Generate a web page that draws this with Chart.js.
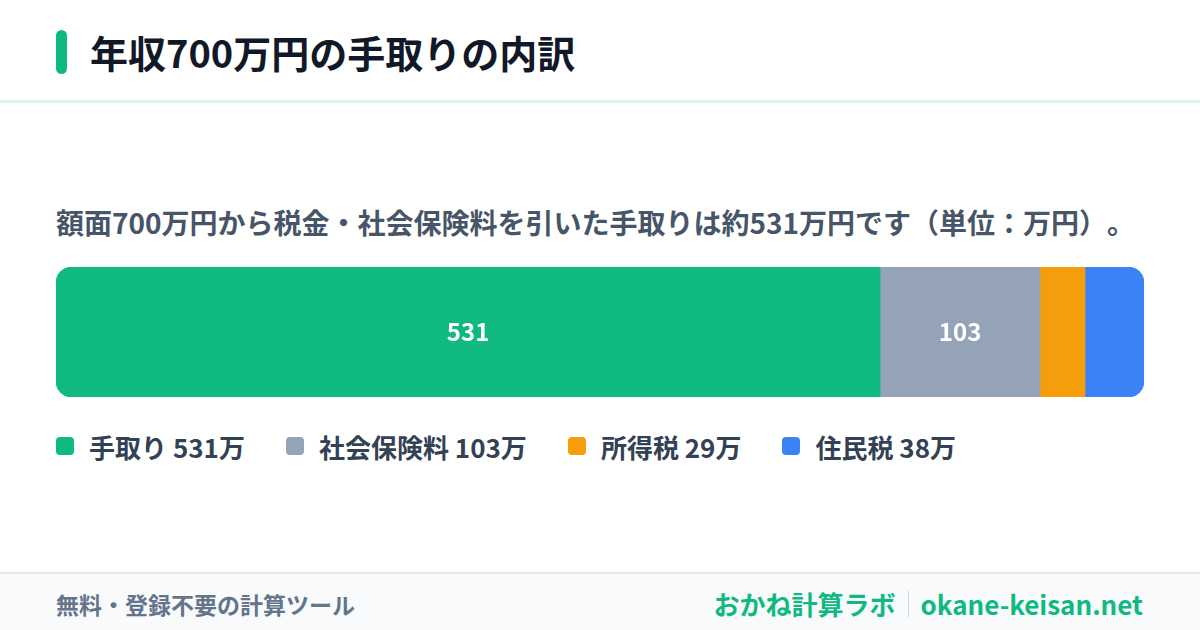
<!DOCTYPE html>
<html lang="ja">
<head>
<meta charset="utf-8">
<script src="https://cdn.jsdelivr.net/npm/chart.js@4"></script>
<style>
  html, body { margin: 0; padding: 0; }
  body {
    width: 1200px; height: 630px; position: relative; overflow: hidden;
    background: #ffffff;
    font-family: "Noto Sans CJK JP", "Noto Sans", sans-serif;
    font-weight: 700;
    text-spacing-trim: space-all;
  }
  .accent {
    position: absolute; left: 56px; top: 30px; width: 11px; height: 44px;
    border-radius: 6px; background: #10b981;
  }
  .title {
    position: absolute; left: 90px; top: 26px; line-height: 52px;
    font-size: 38px; color: #111827; margin: 0; font-weight: 700;
  }
  .header-line {
    position: absolute; left: 0; top: 100px; width: 1200px; height: 3px;
    background: #dcf5ec;
  }
  .subtitle {
    position: absolute; left: 56px; top: 202px; line-height: 40px;
    font-size: 28px; color: #475569; margin: 0;
  }
  .chart-box {
    position: absolute; left: 56px; top: 267px; width: 1088px; height: 130px;
  }
  .legend {
    position: absolute; left: 56px; top: 428px; height: 36px;
    display: flex; align-items: center; gap: 41px;
  }
  .legend-item { display: flex; align-items: center; gap: 15px; font-size: 26px; color: #334155; }
  .legend-box { width: 18px; height: 18px; border-radius: 4px; }
  .footer {
    position: absolute; left: 0; top: 572px; width: 1200px; height: 58px;
    background: #f8fafc; border-top: 2px solid #e2e8f0; box-sizing: border-box;
  }
  .footer-left {
    position: absolute; left: 56px; top: 14px; line-height: 32px;
    font-size: 23px; color: #64748b;
  }
  .footer-right {
    position: absolute; right: 57px; top: 12px; line-height: 36px;
    font-size: 26px; color: #10b981; display: flex; align-items: center;
  }
  .footer-sep { width: 1px; height: 26px; background: #cbd5e1; margin: 0 12px; }
</style>
</head>
<body>
<div class="accent"></div>
<h1 class="title">年収700万円の手取りの内訳</h1>
<div class="header-line"></div>
<p class="subtitle">額面700万円から税金・社会保険料を引いた手取りは約531万円です（単位：万円）。</p>
<div class="chart-box"><canvas id="breakdown-chart"></canvas></div>
<div class="legend" id="legend"></div>
<div class="footer">
  <div class="footer-left">無料・登録不要の計算ツール</div>
  <div class="footer-right"><span>おかね計算ラボ</span><span class="footer-sep"></span><span>okane-keisan.net</span></div>
</div>

<script>
"use strict";

// ── データ ─────────────────────────────────────
const categories   = ["年収700万円"];
const seriesLabels = ["手取り", "社会保険料", "所得税", "住民税"];
const seriesValues = [531, 103, 29, 38];
const seriesColors = ["#10b981", "#94a3b8", "#f59e0b", "#3b82f6"];
const unitLabel    = "万";

const total = seriesValues.reduce((a, b) => a + b, 0);

// ── 凡例 (HTML) ────────────────────────────────
const legendEl = document.getElementById("legend");
seriesLabels.forEach((label, i) => {
  const item = document.createElement("div");
  item.className = "legend-item";
  item.innerHTML =
    `<span class="legend-box" style="background:${seriesColors[i]}"></span>` +
    `<span>${label} ${seriesValues[i]}${unitLabel}</span>`;
  legendEl.appendChild(item);
});

// ── バー内の数値ラベル ─────────────────────────
const barLabelPlugin = {
  id: "barLabels",
  afterDatasetsDraw(chart) {
    const { ctx } = chart;
    ctx.save();
    ctx.fillStyle = "#ffffff";
    ctx.font = "700 24px 'Noto Sans CJK JP', 'Noto Sans', sans-serif";
    ctx.textAlign = "center";
    ctx.textBaseline = "middle";
    chart.data.datasets.forEach((ds, i) => {
      const meta = chart.getDatasetMeta(i);
      meta.data.forEach((bar, j) => {
        const { x, base, y } = bar.getProps(["x", "base", "y"], true);
        if (Math.abs(x - base) < 80) return;   // 狭い区間は省略
        ctx.fillText(String(ds.data[j]), (x + base) / 2, y);
      });
    });
    ctx.restore();
  },
};

const lastIdx = seriesValues.length - 1;
const R = 16;

new Chart(document.getElementById("breakdown-chart"), {
  type: "bar",
  data: {
    labels: categories,
    datasets: seriesLabels.map((label, i) => ({
      label,
      data: [seriesValues[i]],
      backgroundColor: seriesColors[i],
      borderWidth: 0,
      borderSkipped: false,
      borderRadius: {
        topLeft:     i === 0 ? R : 0,
        bottomLeft:  i === 0 ? R : 0,
        topRight:    i === lastIdx ? R : 0,
        bottomRight: i === lastIdx ? R : 0,
      },
      barPercentage: 1,
      categoryPercentage: 1,
    })),
  },
  options: {
    indexAxis: "y",
    responsive: true,
    maintainAspectRatio: false,
    animation: false,
    layout: { padding: 0 },
    plugins: {
      legend: { display: false },
      tooltip: { enabled: false },
    },
    scales: {
      x: { stacked: true, min: 0, max: total, display: false },
      y: { stacked: true, display: false },
    },
  },
  plugins: [barLabelPlugin],
});
</script>
</body>
</html>
